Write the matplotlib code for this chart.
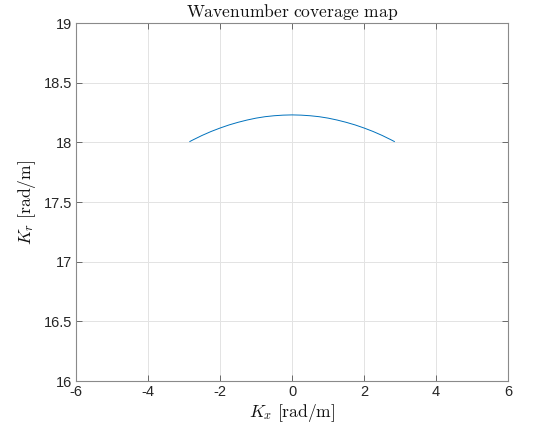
import matplotlib
matplotlib.use("Agg")
import matplotlib.pyplot as plt

# Wavenumber samples along the coverage arc
kx = [-2.84, -2.75, -2.5, -2.25, -2.0, -1.75, -1.5, -1.25, -1.0, -0.75, -0.5, -0.25, 0.0,
      0.25, 0.5, 0.75, 1.0, 1.25, 1.5, 1.75, 2.0, 2.25, 2.5, 2.75, 2.84]
kr = [18.007, 18.021, 18.058, 18.091, 18.120, 18.146, 18.168, 18.187, 18.203, 18.215, 18.223, 18.228, 18.230,
      18.228, 18.223, 18.215, 18.203, 18.187, 18.168, 18.146, 18.120, 18.091, 18.058, 18.021, 18.007]

xticks = [-6, -4, -2, 0, 2, 4, 6]
yticks = [16, 16.5, 17, 17.5, 18, 18.5, 19]
ytick_labels = ["16", "16.5", "17", "17.5", "18", "18.5", "19"]

plt.rcParams["font.family"] = ["Liberation Sans", "DejaVu Sans"]
plt.rcParams["mathtext.fontset"] = "cm"
plt.rcParams["axes.unicode_minus"] = False

fig = plt.figure(figsize=(5.47, 4.34), dpi=100)
ax = fig.add_axes([0.139, 0.122, 0.790, 0.825])

ax.plot(kx, kr, color="#0072BD", linewidth=0.7)

ax.set_xlim(-6, 6)
ax.set_ylim(16, 19)
ax.set_xticks(xticks)
ax.set_yticks(yticks)
ax.set_yticklabels(ytick_labels)

ax.grid(True, color="#e3e3e3", linewidth=0.7)
ax.set_axisbelow(True)
for s in ax.spines.values():
    s.set_color("#8a8a8a")
    s.set_linewidth(0.8)
ax.tick_params(direction="in", length=4, width=0.6, color="#555555",
               labelsize=10.5, labelcolor="#262626", top=True, right=True, pad=3)

ax.set_title(r"$\mathrm{Wavenumber\ coverage\ map}$", fontsize=12.6, color="#111111", pad=4)
ax.set_xlabel(r"$K_x\ \mathrm{[rad/m]}$", fontsize=12.6, color="#111111", labelpad=2)
ax.set_ylabel(r"$K_r\ \mathrm{[rad/m]}$", fontsize=12.6, color="#111111", labelpad=4)

fig.savefig("out.png", dpi=100)
